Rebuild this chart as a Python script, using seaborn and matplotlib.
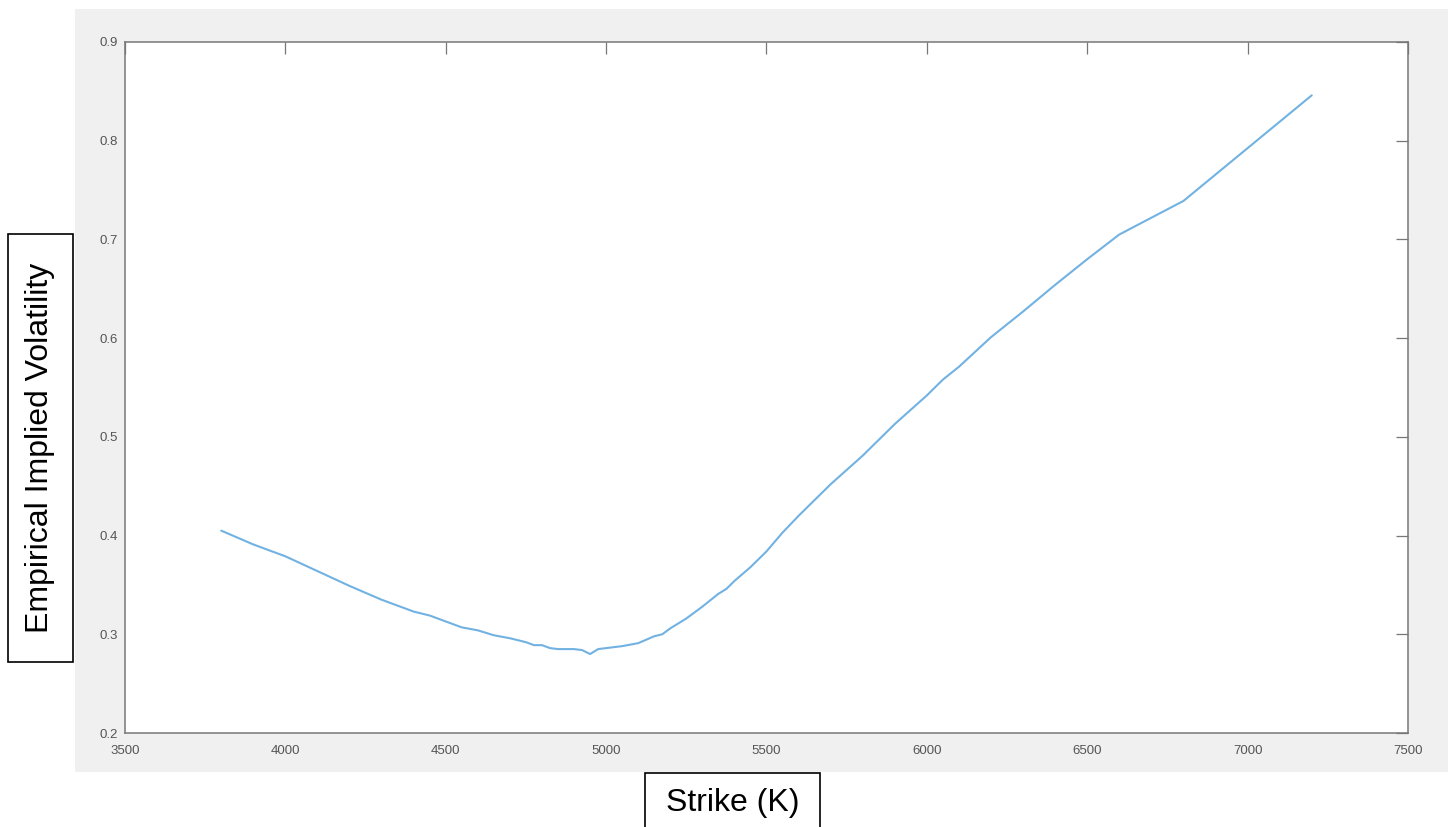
import matplotlib
matplotlib.use("Agg")
import matplotlib.pyplot as plt
from matplotlib.patches import Rectangle
import seaborn as sns
import pandas as pd

strikes = [3800, 3900, 4000, 4100, 4200, 4300, 4400, 4450, 4500, 4550, 4600, 4650,
           4700, 4750, 4775, 4800, 4825, 4850, 4900, 4925, 4950, 4975, 5000, 5050,
           5100, 5150, 5175, 5200, 5250, 5300, 5350, 5375, 5400, 5450, 5500, 5550,
           5600, 5700, 5800, 5900, 6000, 6050, 6100, 6200, 6300, 6400, 6500, 6600,
           6800, 7200]
implied_vol = [0.405, 0.391, 0.379, 0.364, 0.349, 0.335, 0.323, 0.319, 0.313, 0.307,
               0.304, 0.299, 0.296, 0.292, 0.289, 0.289, 0.286, 0.285, 0.285, 0.284,
               0.280, 0.285, 0.286, 0.288, 0.291, 0.298, 0.300, 0.306, 0.316, 0.328,
               0.341, 0.346, 0.354, 0.368, 0.384, 0.403, 0.420, 0.452, 0.481, 0.513,
               0.542, 0.558, 0.571, 0.601, 0.627, 0.654, 0.680, 0.705, 0.739, 0.846]
x_ticks = [3500, 4000, 4500, 5000, 5500, 6000, 6500, 7000, 7500]
y_ticks = [0.2, 0.3, 0.4, 0.5, 0.6, 0.7, 0.8, 0.9]
x_label = "Strike (K)"
y_label = "Empirical Implied Volatility"

sns.set_style("white")
plt.rcParams["font.family"] = ["Liberation Sans", "DejaVu Sans"]

W, H = 1452, 827
fig = plt.figure(figsize=(W / 100, H / 100), dpi=100)
fig.patch.set_facecolor("white")

# MATLAB-like grey figure panel
fig.add_artist(Rectangle((75 / W, 1 - 772 / H), (1448 - 75) / W, (772 - 9) / H,
                         transform=fig.transFigure, facecolor="#f0f0f0",
                         edgecolor="none", zorder=0))

ax = fig.add_axes([125 / W, 1 - 733 / H, (1408 - 125) / W, (733 - 42) / H])
ax.set_facecolor("white")

df = pd.DataFrame({"Strike": strikes, "Vol": implied_vol})
sns.lineplot(data=df, x="Strike", y="Vol", ax=ax, color="#72b2e2",
             linewidth=1.5, sort=False, estimator=None)

ax.set_xlim(3500, 7500)
ax.set_ylim(0.2, 0.9)
ax.set_xticks(x_ticks)
ax.set_xticklabels([str(t) for t in x_ticks])
ax.set_yticks(y_ticks)
ax.set_yticklabels([f"{t:.1f}" for t in y_ticks])
ax.set_xlabel("")
ax.set_ylabel("")

for s in ax.spines.values():
    s.set_visible(True)
    s.set_color("#777777")
    s.set_linewidth(1.1)

ax.tick_params(axis="both", which="both", direction="in", length=8.5, width=0.9,
               color="#777777", labelcolor="#555555", labelsize=9.5,
               top=True, right=True)
ax.tick_params(axis="x", pad=9)
ax.tick_params(axis="y", pad=5)

# Boxed axis labels
fig.add_artist(Rectangle((8 / W, 1 - 662 / H), 65 / W, (662 - 234) / H,
                         transform=fig.transFigure, facecolor="white",
                         edgecolor="black", linewidth=1.2, zorder=2))
fig.text(40.5 / W, 1 - 448 / H, y_label, rotation=90, ha="center", va="center",
         fontsize=23, color="black", zorder=3)

fig.add_artist(Rectangle((645 / W, 1 - 840 / H), 175 / W, (840 - 773) / H,
                         transform=fig.transFigure, facecolor="white",
                         edgecolor="black", linewidth=1.2, zorder=2, clip_on=False))
fig.text(732.5 / W, 1 - 803 / H, x_label, ha="center", va="center",
         fontsize=23, color="black", zorder=3)

fig.savefig("out.png", dpi=100)
